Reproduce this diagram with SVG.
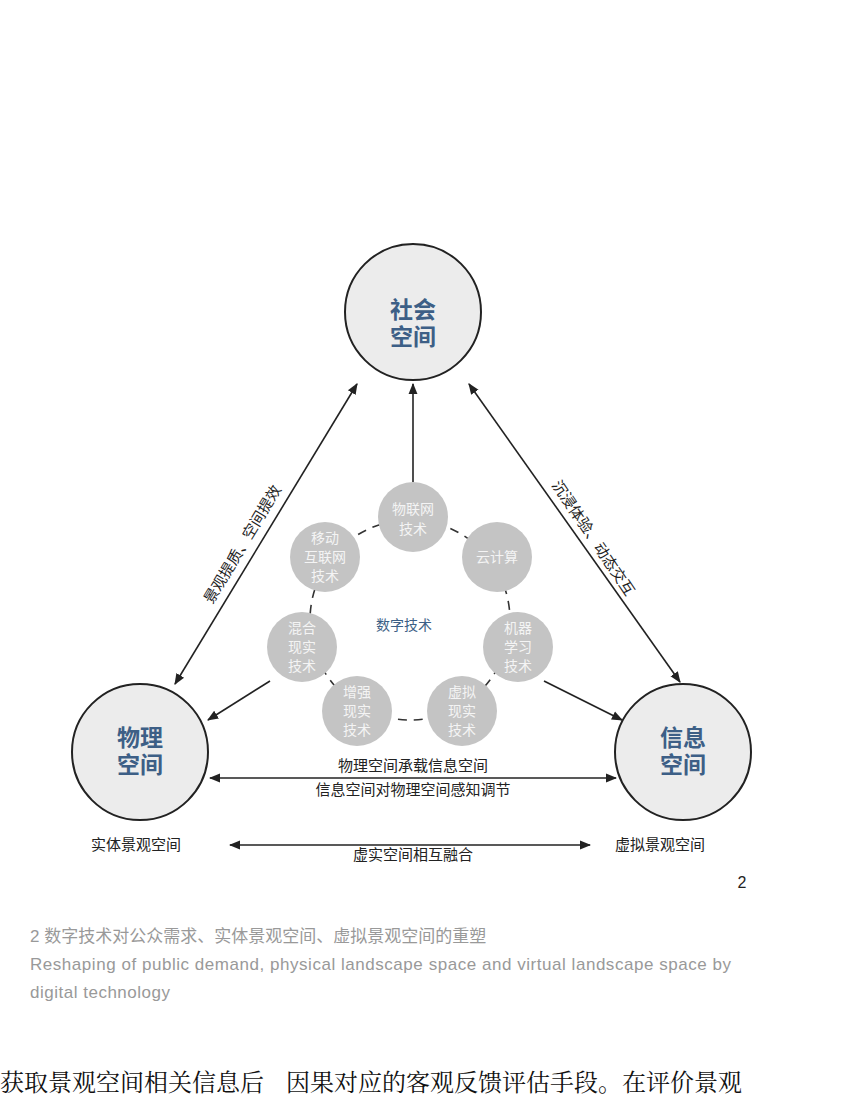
<svg xmlns="http://www.w3.org/2000/svg" width="866" height="1100" viewBox="0 0 866 1100">
<style>
.big{fill:#ececec;stroke:#222;stroke-width:2}
.bt{font-family:"Liberation Sans","Noto Sans CJK SC",sans-serif;font-size:23px;font-weight:bold;fill:#3d5f86;text-anchor:middle}
.sm{fill:#c4c4c4}
.st{font-family:"Liberation Sans","Noto Sans CJK SC",sans-serif;font-size:14px;fill:#f4f4f4;text-anchor:middle}
.lb{font-family:"Liberation Sans","Noto Sans CJK SC",sans-serif;font-size:15px;fill:#222;text-anchor:middle}
.ln{stroke:#222;stroke-width:1.6;fill:none}
.cap{font-family:"Liberation Sans","Noto Sans CJK SC",sans-serif;font-size:17px;fill:#999}
</style>
<defs><marker id="a" viewBox="0 0 10 10" refX="9" refY="5" markerWidth="7" markerHeight="7" orient="auto-start-reverse"><path d="M0,1 L10,5 L0,9 z" fill="#222"/></marker></defs>
<rect width="866" height="1100" fill="#fff"/>
<g id="connectors">
<circle cx="410" cy="620" r="100" fill="none" stroke="#333" stroke-width="1.6" stroke-dasharray="9,7"/>
<line class="ln" x1="357" y1="384" x2="175" y2="684" marker-start="url(#a)" marker-end="url(#a)"/>
<line class="ln" x1="469" y1="384" x2="680" y2="682" marker-start="url(#a)" marker-end="url(#a)"/>
<line class="ln" x1="413" y1="482" x2="413" y2="384" marker-end="url(#a)"/>
<line class="ln" x1="270" y1="681" x2="208" y2="720" marker-end="url(#a)"/>
<line class="ln" x1="544" y1="681" x2="622" y2="720" marker-end="url(#a)"/>
<line class="ln" x1="210" y1="778" x2="616" y2="778" marker-start="url(#a)" marker-end="url(#a)"/>
<line class="ln" x1="230" y1="845" x2="590" y2="845" marker-start="url(#a)" marker-end="url(#a)"/>
<text class="lb" transform="translate(247,547) rotate(-59)">景观提质、空间提效</text>
<text class="lb" transform="translate(589,541) rotate(56)">沉浸体验、动态交互</text>
<text class="lb" x="413" y="771">物理空间承载信息空间</text>
<text class="lb" x="413" y="795">信息空间对物理空间感知调节</text>
<text class="lb" x="413" y="860">虚实空间相互融合</text>
</g>
<g id="n-social"><circle class="big" cx="413" cy="312" r="68"/><text class="bt" x="413" y="318">社会</text><text class="bt" x="413" y="345">空间</text></g>
<g id="n-phys"><circle class="big" cx="140" cy="752" r="68"/><text class="bt" x="140" y="746">物理</text><text class="bt" x="140" y="773">空间</text></g>
<g id="n-info"><circle class="big" cx="683" cy="752" r="68"/><text class="bt" x="683" y="746">信息</text><text class="bt" x="683" y="773">空间</text></g>
<g id="n-iot"><circle class="sm" cx="413" cy="517" r="35"/><text class="st" x="413" y="514">物联网</text><text class="st" x="413" y="534">技术</text></g>
<g id="n-cloud"><circle class="sm" cx="497" cy="557" r="35"/><text class="st" x="497" y="562">云计算</text></g>
<g id="n-ml"><circle class="sm" cx="518" cy="647" r="35"/><text class="st" x="518" y="633">机器</text><text class="st" x="518" y="652">学习</text><text class="st" x="518" y="671">技术</text></g>
<g id="n-vr"><circle class="sm" cx="462" cy="711" r="35"/><text class="st" x="462" y="697">虚拟</text><text class="st" x="462" y="716">现实</text><text class="st" x="462" y="735">技术</text></g>
<g id="n-ar"><circle class="sm" cx="357" cy="711" r="35"/><text class="st" x="357" y="697">增强</text><text class="st" x="357" y="716">现实</text><text class="st" x="357" y="735">技术</text></g>
<g id="n-mr"><circle class="sm" cx="302" cy="647" r="35"/><text class="st" x="302" y="633">混合</text><text class="st" x="302" y="652">现实</text><text class="st" x="302" y="671">技术</text></g>
<g id="n-mob"><circle class="sm" cx="325" cy="557" r="35"/><text class="st" x="325" y="543">移动</text><text class="st" x="325" y="562">互联网</text><text class="st" x="325" y="581">技术</text></g>
<text x="404" y="630" font-family="Liberation Sans,Noto Sans CJK SC,sans-serif" font-size="14" fill="#3d5f86" text-anchor="middle">数字技术</text>
<text class="lb" x="136" y="850">实体景观空间</text>
<text class="lb" x="660" y="850">虚拟景观空间</text>
<text x="742" y="888" font-family="Liberation Sans,sans-serif" font-size="16" fill="#222" text-anchor="middle">2</text>
<text class="cap" x="30" y="942">2 数字技术对公众需求、实体景观空间、虚拟景观空间的重塑</text>
<text class="cap" x="30" y="970" textLength="701" lengthAdjust="spacing">Reshaping of public demand, physical landscape space and virtual landscape space by</text>
<text class="cap" x="30" y="998" textLength="140" lengthAdjust="spacing">digital technology</text>
<text x="0" y="1091" font-family="Liberation Serif,Noto Serif CJK SC,Noto Sans CJK SC,serif" font-size="24" fill="#111">获取景观空间相关信息后</text>
<text x="286" y="1091" font-family="Liberation Serif,Noto Serif CJK SC,Noto Sans CJK SC,serif" font-size="24" fill="#111">因果对应的客观反馈评估手段。在评价景观</text>
</svg>
